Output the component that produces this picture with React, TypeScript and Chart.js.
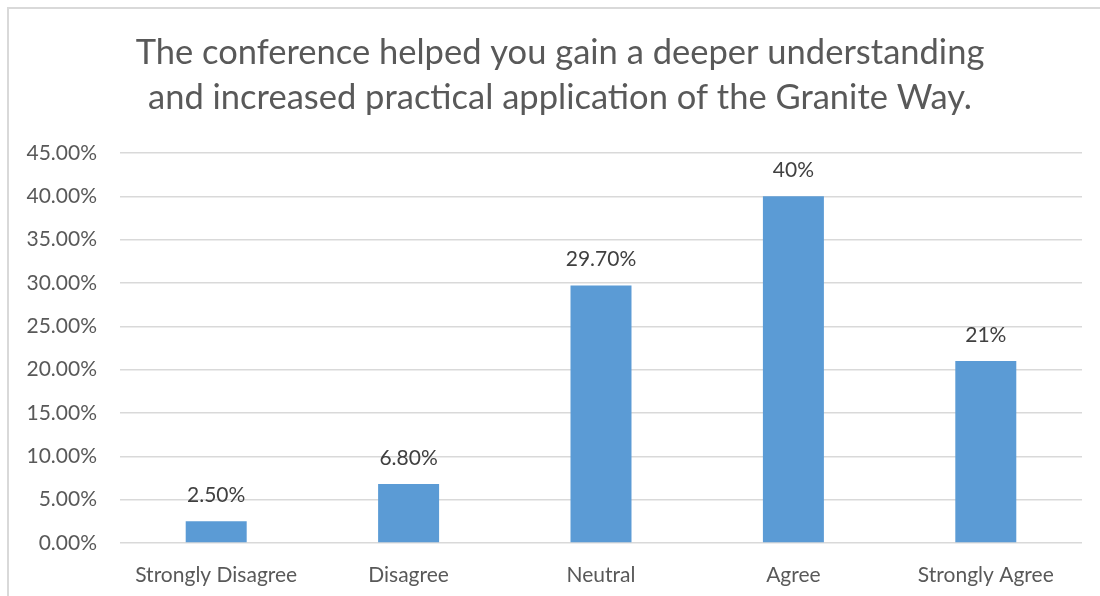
import React, { useEffect, useRef } from "react";
import { Chart, registerables } from "chart.js";

Chart.register(...registerables);

const titleLines = [
  "The conference helped you gain a deeper understanding",
  "and increased practical application of the Granite Way.",
];
const categories = ["Strongly Disagree", "Disagree", "Neutral", "Agree", "Strongly Agree"];
const values = [2.5, 6.8, 29.7, 40, 21];
const valueLabels = ["2.50%", "6.80%", "29.70%", "40%", "21%"];
const yTicks = [0, 5, 10, 15, 20, 25, 30, 35, 40, 45];

const FONT = "Lato, 'Open Sans', sans-serif";
const TEXT = "#595959";

const titlePlugin = {
  id: "customTitle",
  afterDraw(chart: any) {
    const ctx = chart.ctx;
    ctx.save();
    ctx.font = `34.5px ${FONT}`;
    ctx.fillStyle = TEXT;
    ctx.textAlign = "center";
    ctx.textBaseline = "middle";
    titleLines.forEach((line, i) => ctx.fillText(line, 552, 45 + i * 45));
    ctx.restore();
  },
};

const labelPlugin = {
  id: "valueLabels",
  afterDatasetsDraw(chart: any) {
    const ctx = chart.ctx;
    const meta = chart.getDatasetMeta(0);
    ctx.save();
    ctx.font = `21px ${FONT}`;
    ctx.fillStyle = "#404040";
    ctx.textAlign = "center";
    ctx.textBaseline = "middle";
    meta.data.forEach((bar: any, i: number) => {
      ctx.fillText(valueLabels[i], bar.x, bar.y - 26);
    });
    ctx.restore();
  },
};

export default function App() {
  const ref = useRef<HTMLCanvasElement>(null);
  useEffect(() => {
    if (!ref.current) return;
    const chart = new Chart(ref.current, {
      type: "bar",
      data: {
        labels: categories,
        datasets: [
          {
            data: values,
            backgroundColor: "#5B9BD5",
            borderWidth: 0,
            barPercentage: 0.317,
            categoryPercentage: 1,
          },
        ],
      },
      options: {
        responsive: false,
        animation: false,
        layout: { padding: { top: 145, right: 26, bottom: 0, left: 0 } },
        plugins: { legend: { display: false }, tooltip: { enabled: false }, title: { display: false } },
        scales: {
          x: {
            grid: { display: false },
            border: { display: false },
            ticks: { color: TEXT, font: { family: FONT, size: 21 }, padding: 12, maxRotation: 0, autoSkip: false },
            afterFit(scale: any) {
              scale.height = 53;
            },
          },
          y: {
            min: 0,
            max: 45,
            afterBuildTicks(scale: any) {
              scale.ticks = yTicks.map((v) => ({ value: v }));
            },
            grid: { color: "#d9d9d9", lineWidth: 1.5, drawTicks: false },
            border: { display: false },
            ticks: {
              color: TEXT,
              font: { family: FONT, size: 21 },
              padding: 23,
              callback: (v: any) => Number(v).toFixed(2) + "%",
            },
            afterFit(scale: any) {
              scale.width = 112;
            },
          },
        },
      },
      plugins: [titlePlugin, labelPlugin],
    });
    return () => chart.destroy();
  }, []);
  return (
    <div>
      <div
        style={{
          position: "fixed",
          left: 7,
          top: 7,
          width: 1200,
          height: 700,
          borderTop: "2px solid #d9d9d9",
          borderLeft: "2px solid #d9d9d9",
          boxSizing: "border-box",
        }}
      />
      <canvas
        ref={ref}
        width={1100}
        height={588}
        style={{ position: "fixed", left: 8, top: 8, width: 1100, height: 588 }}
      />
    </div>
  );
}
